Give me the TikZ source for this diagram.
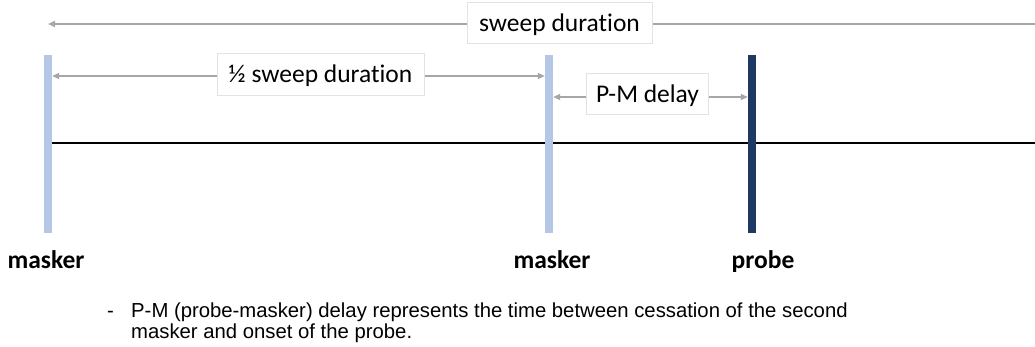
\documentclass[tikz,border=0pt]{standalone}
\usepackage{fontspec}
\setmainfont{Carlito}[Ligatures=NoCommon]
\newfontfamily\arialf{Liberation Sans}
\usetikzlibrary{arrows.meta}
\definecolor{lightbar}{HTML}{B4C7E7}
\definecolor{darkbar}{HTML}{203864}
\definecolor{arrowgray}{HTML}{A6A6A6}
\definecolor{boxgray}{HTML}{E3E3E3}
\tikzset{
  bar/.style={rectangle, draw=none, minimum width=8pt, minimum height=178pt, inner sep=0pt},
  maskbar/.style={bar, fill=lightbar},
  probebar/.style={bar, fill=darkbar},
  dimarrow/.style={draw=arrowgray, line width=1.8pt, {Triangle[length=7pt,width=6pt]}-{Triangle[length=7pt,width=6pt]}},
  lbox/.style={rectangle, draw=boxgray, line width=0.8pt, fill=white, font=\fontsize{25.5}{30}\selectfont, inner xsep=0pt, inner ysep=0pt, text height=19pt, text depth=2pt},
  evlabel/.style={font=\bfseries\fontsize{25.5}{30}\selectfont, inner sep=0pt, anchor=base},
  notefont/.style={font=\arialf\fontsize{20.3}{21.5}\selectfont, inner sep=0pt, anchor=base west},
}
\begin{document}
\begin{tikzpicture}[x=1pt,y=-1pt]
\useasboundingbox (0,0) rectangle (1035,346);
\coordinate (lineend) at (1035,143);
\coordinate (topend) at (1035,24);
\coordinate (m1c) at (48,144);
% time axis
\draw[black, line width=2pt] (m1c |- lineend) -- (lineend);
% bars
\node[maskbar] (m1) at (m1c) {};
\node[maskbar] (m2) at (549,144) {};
\node[probebar] (p) at (752,144) {};
% sweep duration
\draw[draw=arrowgray, line width=1.8pt, {Triangle[length=7pt,width=6pt]}-] (m1.center |- topend) -- (topend);
\node[lbox, minimum width=185pt, minimum height=41pt] (sd) at (559.5,22.5) {sweep duration};
% half sweep
\draw[dimarrow] (m1.east |- 0,76) -- (m2.west |- 0,76);
\node[lbox, minimum width=207pt, minimum height=42pt] (hsd) at (320.5,74) {½ sweep duration};
% P-M delay
\draw[dimarrow] (m2.east |- 0,97) -- (p.west |- 0,97);
\node[lbox, minimum width=122pt, minimum height=41pt] (pm) at (647.5,93.5) {P-M delay};
% event labels
\node[evlabel] (l1) at (46,268) {masker};
\node[evlabel] (l2) at (552,268) {masker};
\node[evlabel] (l3) at (763,268) {probe};
% note
\node[notefont] (dash) at (107,317) {-};
\node[notefont] (note1) at (131,317) {P-M (probe-masker) delay represents the time between cessation of the second};
\node[notefont] (note2) at (131,338.5) {masker and onset of the probe.};
\end{tikzpicture}
\end{document}
